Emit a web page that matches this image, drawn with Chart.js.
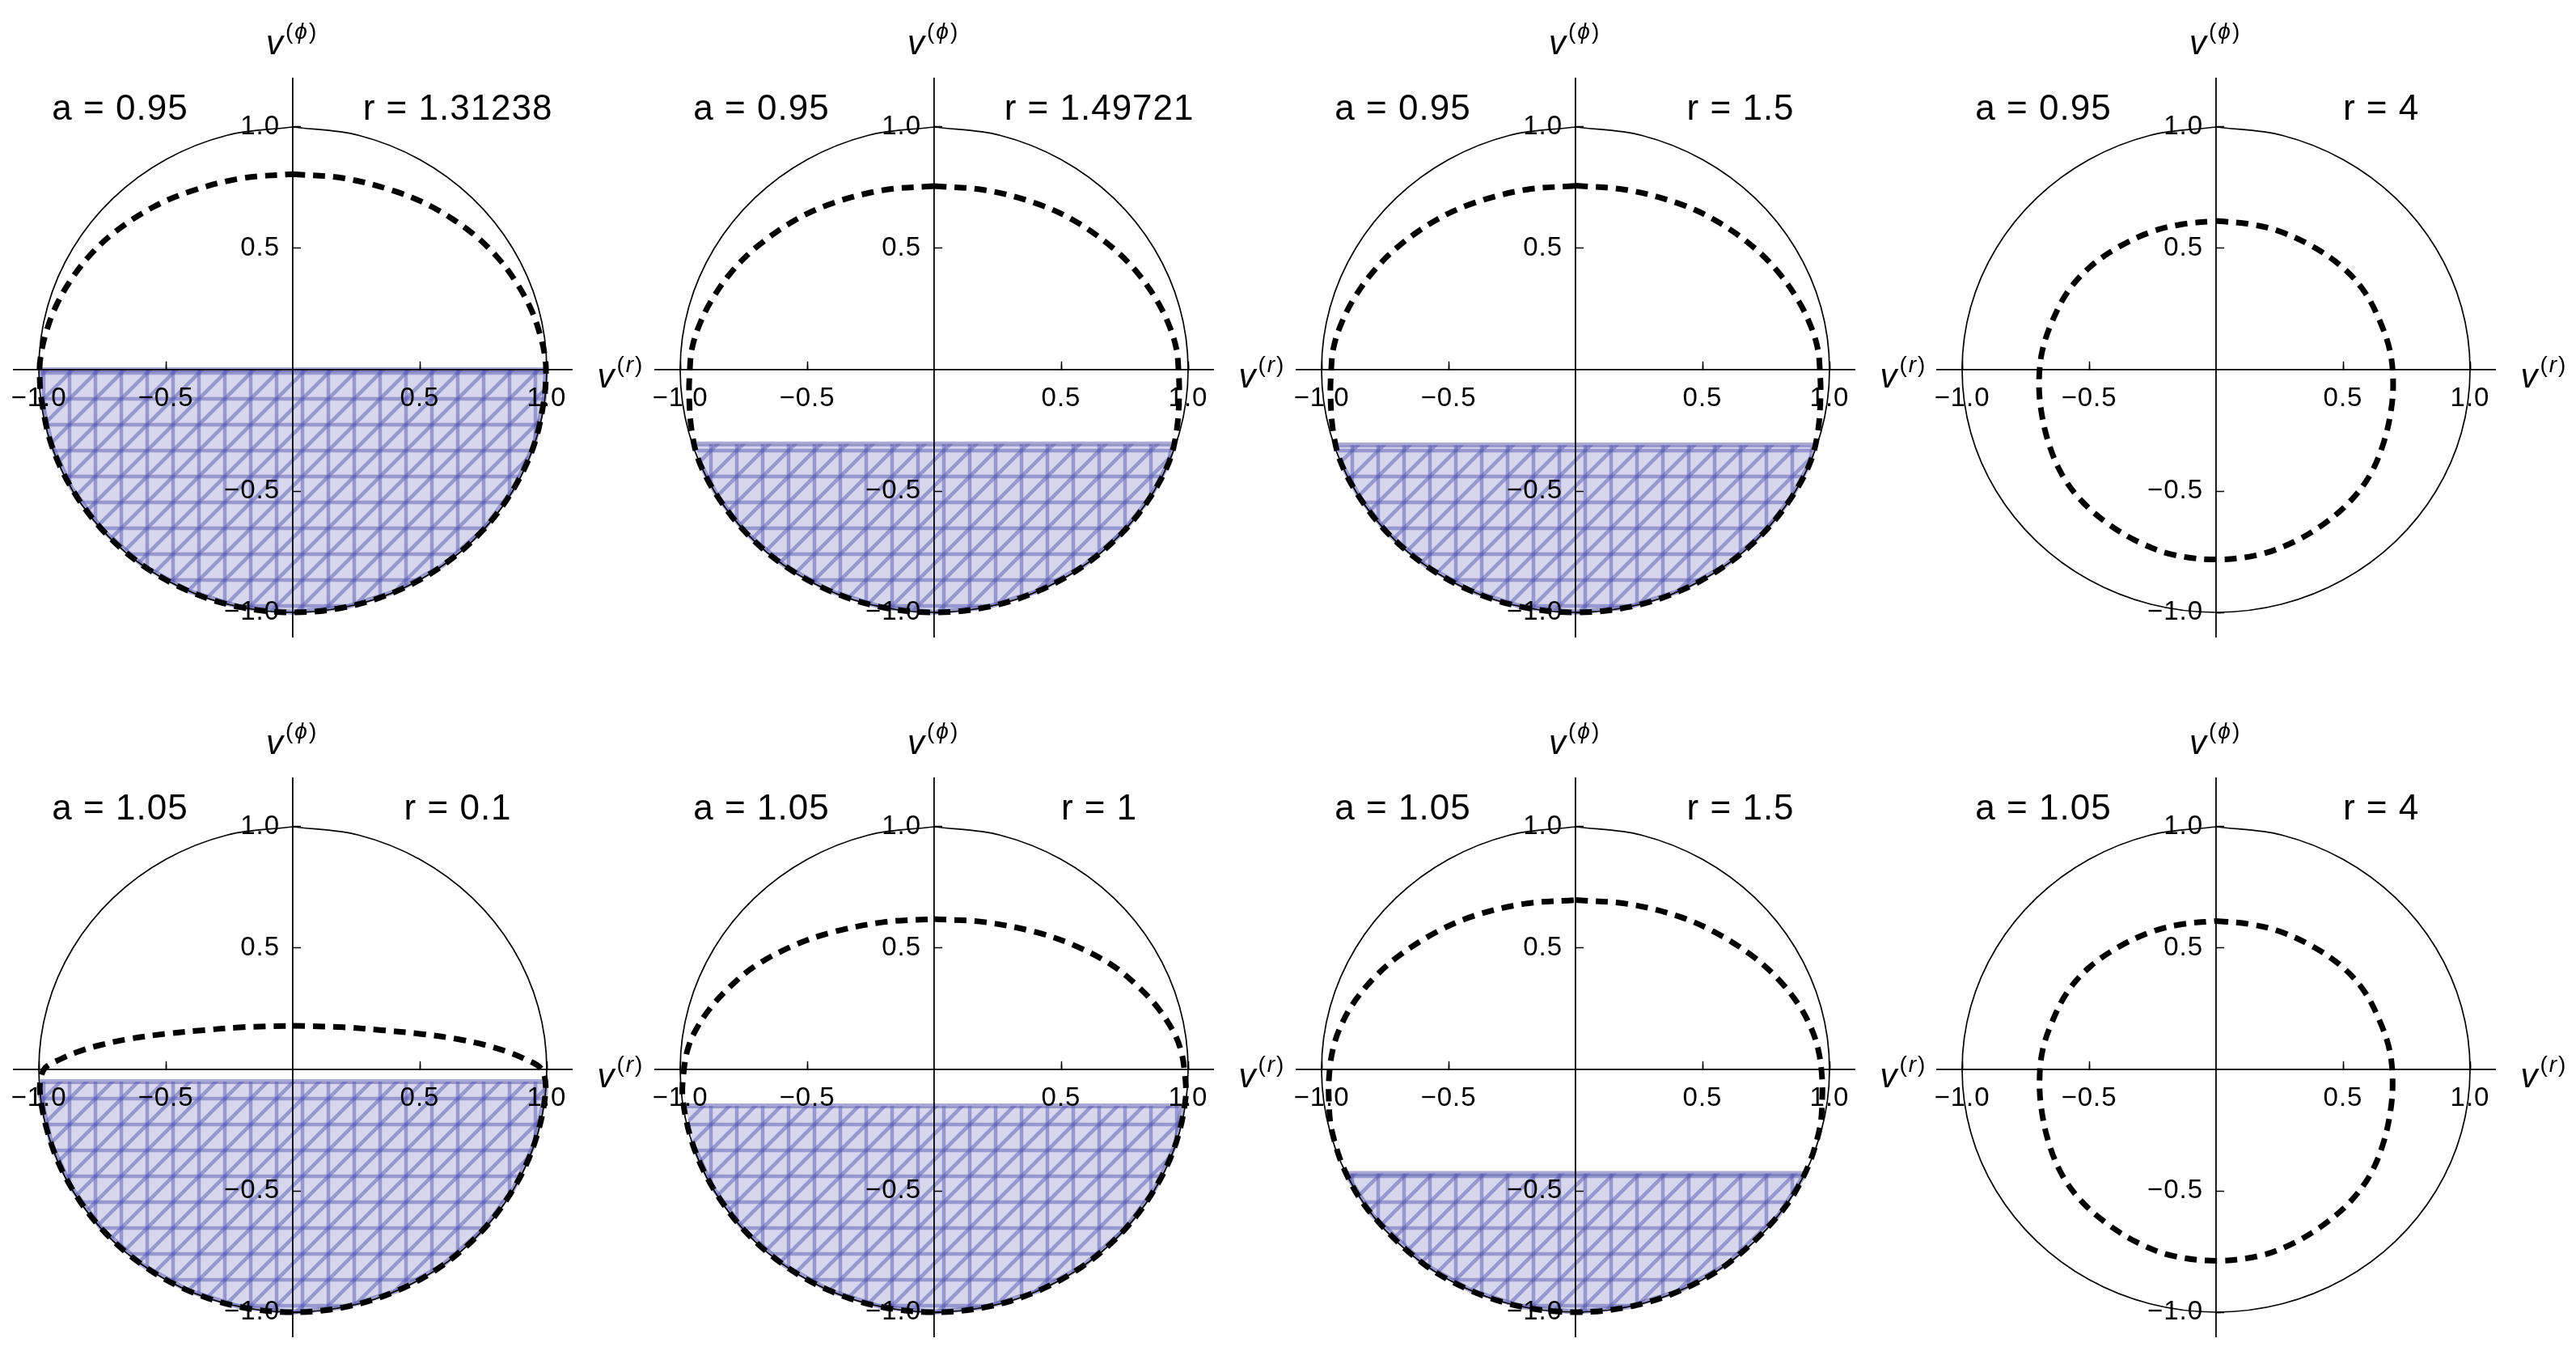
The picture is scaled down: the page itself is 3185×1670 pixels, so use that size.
<!DOCTYPE html>
<html lang="en">

<head>
    <meta charset="UTF-8">
    <title>Velocity regions, a = 0.95 / 1.05</title>
    <script src="https://cdn.jsdelivr.net/npm/chart.js"></script>
    <style>
        body {
            margin: 0;
            background: #fff;
        }

        #grid {
            position: relative;
            width: 3185px;
            height: 1670px;
            overflow: hidden;
        }

        #grid canvas {
            position: absolute;
        }
    </style>
</head>

<body>
    <div id="grid"></div>

    <script>
        // panel captions, row by row
        const aLabels = ['a = 0.95', 'a = 0.95', 'a = 0.95', 'a = 0.95', 'a = 1.05', 'a = 1.05', 'a = 1.05', 'a = 1.05'];
        const rLabels = ['r = 1.31238', 'r = 1.49721', 'r = 1.5', 'r = 4', 'r = 0.1', 'r = 1', 'r = 1.5', 'r = 4'];

        // axis ticks and names
        const tickValues = [-1, -0.5, 0.5, 1];
        const tickLabels = ['\u22121.0', '\u22120.5', '0.5', '1.0'];
        const xName = ['v', '(', 'r', ')'];
        const yName = ['v', '(', '\u03D5', ')'];

        // unit circle
        const circle = [[0, 1], [0.259, 0.966], [0.5, 0.866], [0.707, 0.707], [0.866, 0.5], [0.966, 0.259], [1, 0],
            [0.966, -0.259], [0.866, -0.5], [0.707, -0.707], [0.5, -0.866], [0.259, -0.966], [0, -1],
            [-0.259, -0.966], [-0.5, -0.866], [-0.707, -0.707], [-0.866, -0.5], [-0.966, -0.259], [-1, 0],
            [-0.966, 0.259], [-0.866, 0.5], [-0.707, 0.707], [-0.5, 0.866], [-0.259, 0.966], [0, 1]
        ];

        // dashed curves, one per panel
        const dash1 = [[0, 0.806], [0.2, 0.789], [0.4, 0.736], [0.55, 0.67], [0.7, 0.568], [0.8, 0.47], [0.88, 0.36],
            [0.94, 0.245], [0.975, 0.14], [0.992, 0.06], [0.997, 0],
            [0.99, -0.12], [0.95, -0.31], [0.87, -0.49], [0.75, -0.66], [0.59, -0.807], [0.41, -0.912], [0.21, -0.978], [0, -1],
            [-0.21, -0.978], [-0.41, -0.912], [-0.59, -0.807], [-0.75, -0.66], [-0.87, -0.49], [-0.95, -0.31], [-0.99, -0.12],
            [-0.997, 0], [-0.992, 0.06], [-0.975, 0.14], [-0.94, 0.245], [-0.88, 0.36], [-0.8, 0.47], [-0.7, 0.568],
            [-0.55, 0.67], [-0.4, 0.736], [-0.2, 0.789], [0, 0.806]
        ];
        const dash2 = [[0, 0.757], [0.2, 0.74], [0.4, 0.686], [0.55, 0.615], [0.7, 0.505], [0.8, 0.4], [0.88, 0.28],
            [0.93, 0.17], [0.955, 0.08], [0.962, 0],
            [0.965, -0.1], [0.955, -0.25], [0.925, -0.38], [0.85, -0.527], [0.74, -0.673], [0.59, -0.807], [0.41, -0.912],
            [0.21, -0.978], [0, -1],
            [-0.21, -0.978], [-0.41, -0.912], [-0.59, -0.807], [-0.74, -0.673], [-0.85, -0.527], [-0.925, -0.38],
            [-0.955, -0.25], [-0.965, -0.1],
            [-0.962, 0], [-0.955, 0.08], [-0.93, 0.17], [-0.88, 0.28], [-0.8, 0.4], [-0.7, 0.505], [-0.55, 0.615],
            [-0.4, 0.686], [-0.2, 0.74], [0, 0.757]
        ];
        const dash3 = [[0, 0.758], [0.2, 0.741], [0.4, 0.687], [0.55, 0.616], [0.7, 0.506], [0.8, 0.4], [0.88, 0.28],
            [0.93, 0.17], [0.955, 0.08], [0.962, 0],
            [0.965, -0.1], [0.955, -0.25], [0.925, -0.38], [0.85, -0.527], [0.74, -0.673], [0.59, -0.807], [0.41, -0.912],
            [0.21, -0.978], [0, -1],
            [-0.21, -0.978], [-0.41, -0.912], [-0.59, -0.807], [-0.74, -0.673], [-0.85, -0.527], [-0.925, -0.38],
            [-0.955, -0.25], [-0.965, -0.1],
            [-0.962, 0], [-0.955, 0.08], [-0.93, 0.17], [-0.88, 0.28], [-0.8, 0.4], [-0.7, 0.506], [-0.55, 0.616],
            [-0.4, 0.687], [-0.2, 0.741], [0, 0.758]
        ];
        const dash4 = [[0, 0.613], [0.13, 0.6], [0.25, 0.57], [0.385, 0.505], [0.5, 0.42], [0.585, 0.32], [0.645, 0.2],
            [0.684, 0.08], [0.697, -0.04], [0.69, -0.16], [0.66, -0.3], [0.608, -0.43], [0.53, -0.54], [0.425, -0.635],
            [0.305, -0.71], [0.17, -0.762], [0, -0.782],
            [-0.17, -0.762], [-0.305, -0.71], [-0.425, -0.635], [-0.53, -0.54], [-0.608, -0.43], [-0.66, -0.3],
            [-0.69, -0.16], [-0.697, -0.04], [-0.684, 0.08], [-0.645, 0.2], [-0.585, 0.32], [-0.5, 0.42], [-0.385, 0.505],
            [-0.25, 0.57], [-0.13, 0.6], [0, 0.613]
        ];
        const dash5 = [[0, 0.18], [0.2, 0.174], [0.35, 0.162], [0.5, 0.147], [0.65, 0.125], [0.76, 0.1], [0.84, 0.075],
            [0.91, 0.045], [0.98, 0],
            [0.995, -0.1], [0.95, -0.31], [0.87, -0.49], [0.75, -0.66], [0.59, -0.807], [0.41, -0.912], [0.21, -0.978], [0, -1],
            [-0.21, -0.978], [-0.41, -0.912], [-0.59, -0.807], [-0.75, -0.66], [-0.87, -0.49], [-0.95, -0.31], [-0.995, -0.1],
            [-0.98, 0], [-0.91, 0.045], [-0.84, 0.075], [-0.76, 0.1], [-0.65, 0.125], [-0.5, 0.147], [-0.35, 0.162],
            [-0.2, 0.174], [0, 0.18]
        ];
        const dash6 = [[0, 0.62], [0.2, 0.607], [0.4, 0.566], [0.55, 0.512], [0.7, 0.43], [0.8, 0.345], [0.88, 0.255],
            [0.94, 0.16], [0.97, 0.085], [0.985, 0],
            [0.99, -0.12], [0.95, -0.31], [0.87, -0.49], [0.75, -0.66], [0.59, -0.807], [0.41, -0.912], [0.21, -0.978], [0, -1],
            [-0.21, -0.978], [-0.41, -0.912], [-0.59, -0.807], [-0.75, -0.66], [-0.87, -0.49], [-0.95, -0.31], [-0.99, -0.12],
            [-0.985, 0], [-0.97, 0.085], [-0.94, 0.16], [-0.88, 0.255], [-0.8, 0.345], [-0.7, 0.43], [-0.55, 0.512],
            [-0.4, 0.566], [-0.2, 0.607], [0, 0.62]
        ];
        const dash7 = [[0, 0.698], [0.2, 0.683], [0.4, 0.633], [0.55, 0.565], [0.7, 0.465], [0.8, 0.37], [0.88, 0.265],
            [0.93, 0.165], [0.955, 0.085], [0.968, 0],
            [0.972, -0.1], [0.96, -0.25], [0.9, -0.436], [0.8, -0.6], [0.6, -0.8], [0.41, -0.912], [0.21, -0.978], [0, -1],
            [-0.21, -0.978], [-0.41, -0.912], [-0.6, -0.8], [-0.8, -0.6], [-0.9, -0.436], [-0.96, -0.25], [-0.972, -0.1],
            [-0.968, 0], [-0.955, 0.085], [-0.93, 0.165], [-0.88, 0.265], [-0.8, 0.37], [-0.7, 0.465], [-0.55, 0.565],
            [-0.4, 0.633], [-0.2, 0.683], [0, 0.698]
        ];
        const dash8 = [[0, 0.612], [0.13, 0.599], [0.25, 0.569], [0.385, 0.504], [0.5, 0.42], [0.585, 0.32], [0.645, 0.198],
            [0.683, 0.08], [0.695, -0.04], [0.688, -0.162], [0.658, -0.305], [0.606, -0.435], [0.528, -0.545], [0.423, -0.64],
            [0.304, -0.716], [0.17, -0.768], [0, -0.788],
            [-0.17, -0.768], [-0.304, -0.716], [-0.423, -0.64], [-0.528, -0.545], [-0.606, -0.435], [-0.658, -0.305],
            [-0.688, -0.162], [-0.695, -0.04], [-0.683, 0.08], [-0.645, 0.198], [-0.585, 0.32], [-0.5, 0.42], [-0.385, 0.504],
            [-0.25, 0.569], [-0.13, 0.599], [0, 0.612]
        ];
        const dashes = [dash1, dash2, dash3, dash4, dash5, dash6, dash7, dash8];

        // shaded region: flat top edge and its two ends (null = no region)
        const shadeTop = [0, -0.306, -0.31, null, -0.05, -0.15, -0.428, null];
        const shadeLeft = [-0.997, -0.94, -0.944, null, -0.995, -0.98, -0.895, null];
        const shadeRight = [0.997, 0.94, 0.936, null, 0.995, 0.976, 0.898, null];

        // layout of the 4x2 grid (pixel position of each panel's origin)
        const colOrigin = [362, 1154.5, 1947.5, 2740];
        const rowOrigin = [456.7, 1321.7];
        const CW = 880, CH = 880, OX = 420, OY = 460;
        const halfW = 1.1 * 314, topH = 1.2 * 300, botH = 1.1 * 300;
        const FONT = '"Liberation Sans", Arial, sans-serif';

        function meshPattern(ctx) {
            const tile = document.createElement('canvas');
            tile.width = 32;
            tile.height = 32;
            const g = tile.getContext('2d');
            g.fillStyle = 'rgb(214,214,236)';
            g.fillRect(0, 0, 32, 32);
            g.strokeStyle = 'rgba(90,90,180,0.5)';
            g.lineWidth = 4.5;
            g.beginPath(); g.moveTo(16, 0); g.lineTo(16, 32); g.stroke();
            g.beginPath(); g.moveTo(0, 16); g.lineTo(32, 16); g.stroke();
            g.beginPath();
            g.moveTo(-16, 16); g.lineTo(16, -16);
            g.moveTo(0, 32); g.lineTo(32, 0);
            g.moveTo(16, 48); g.lineTo(48, 16);
            g.stroke();
            return ctx.createPattern(tile, 'repeat');
        }

        function drawName(ctx, parts, left, base) {
            ctx.textAlign = 'left';
            ctx.textBaseline = 'alphabetic';
            ctx.font = 'italic 42px ' + FONT;
            ctx.fillText(parts[0], left, base);
            let x = left + ctx.measureText(parts[0]).width + 2;
            const sup = base - 19;
            parts.slice(1).forEach((s, k) => {
                ctx.font = (k === 1 ? 'italic ' : '') + '28px ' + FONT;
                ctx.fillText(s, x, sup);
                x += ctx.measureText(s).width + 1;
            });
        }

        const panelText = {
            id: 'panelText',
            beforeDraw(chart) {
                chart.ctx.letterSpacing = '1px';
            },
            afterDraw(chart, args, opts) {
                const { ctx, chartArea, scales: { x, y } } = chart;
                ctx.save();
                ctx.fillStyle = '#000';
                ctx.font = '44px ' + FONT;
                ctx.textAlign = 'center';
                ctx.textBaseline = 'middle';
                ctx.fillText(opts.a, x.getPixelForValue(-0.68), y.getPixelForValue(1.07));
                ctx.fillText(opts.r, x.getPixelForValue(0.65), y.getPixelForValue(1.07));
                drawName(ctx, yName, x.getPixelForValue(0) - 33, chartArea.top - 30);
                drawName(ctx, xName, chartArea.right + 31, y.getPixelForValue(0) + 22);
                ctx.restore();
            }
        };

        const pts = arr => arr.map(p => ({ x: p[0], y: p[1] }));

        function axis(kind, major) {
            const s = {
                type: 'linear',
                axis: kind,
                min: -1.1,
                max: kind === 'x' ? 1.1 : 1.2,
                position: kind === 'x' ? { y: 0 } : 'center',
                border: { display: major, color: '#000', width: 1.8, z: 1 },
                grid: {
                    display: true,
                    drawOnChartArea: false,
                    drawTicks: true,
                    tickLength: major ? -11 : -6,
                    tickWidth: 1.5,
                    tickColor: '#000',
                    z: 1
                },
                ticks: {
                    display: major,
                    stepSize: major ? 0.5 : 0.1,
                    autoSkip: false,
                    maxRotation: 0,
                    padding: 27,
                    color: '#000',
                    z: 2,
                    font: { family: FONT, size: 33 },
                    callback: v => tickLabels[tickValues.indexOf(v)]
                }
            };
            if (major) {
                s.afterBuildTicks = scale => {
                    scale.ticks = tickValues.map(v => ({ value: v }));
                };
            }
            return s;
        }

        const grid = document.getElementById('grid');

        aLabels.forEach((aText, i) => {
            const col = i % 4;
            const row = Math.floor(i / 4);
            const canvas = document.createElement('canvas');
            canvas.width = CW;
            canvas.height = CH;
            canvas.style.left = (colOrigin[col] - OX) + 'px';
            canvas.style.top = (rowOrigin[row] - OY) + 'px';
            grid.appendChild(canvas);
            const ctx = canvas.getContext('2d');

            const line = { pointRadius: 0, pointHoverRadius: 0, fill: false, borderCapStyle: 'butt' };
            const datasets = [
                Object.assign({}, line, {
                    data: pts(dashes[i]), borderColor: '#000', borderWidth: 7, borderDash: [15, 10], tension: 0.35
                }),
                Object.assign({}, line, {
                    data: pts(circle), borderColor: '#000', borderWidth: 1.7, tension: 0.34
                })
            ];
            if (shadeTop[i] !== null) {
                const top = shadeTop[i];
                const region = [[shadeLeft[i], top], [shadeRight[i], top]]
                    .concat(dashes[i].filter(p => p[1] < top));
                datasets.push(Object.assign({}, line, {
                    data: pts(region),
                    fill: 'shape',
                    backgroundColor: meshPattern(ctx),
                    borderColor: 'rgba(85,85,170,0.5)',
                    borderWidth: 6,
                    borderJoinStyle: 'round',
                    tension: 0
                }));
            }

            new Chart(ctx, {
                type: 'line',
                data: { datasets },
                plugins: [panelText],
                options: {
                    responsive: false,
                    animation: false,
                    events: [],
                    layout: {
                        padding: {
                            left: OX - halfW,
                            right: CW - OX - halfW,
                            top: OY - topH,
                            bottom: CH - OY - botH
                        }
                    },
                    plugins: {
                        legend: { display: false },
                        tooltip: { enabled: false },
                        panelText: { a: aText, r: rLabels[i] }
                    },
                    scales: {
                        x: axis('x', true),
                        xMinor: axis('x', false),
                        y: axis('y', true),
                        yMinor: axis('y', false)
                    }
                }
            });
        });
    </script>
</body>

</html>
